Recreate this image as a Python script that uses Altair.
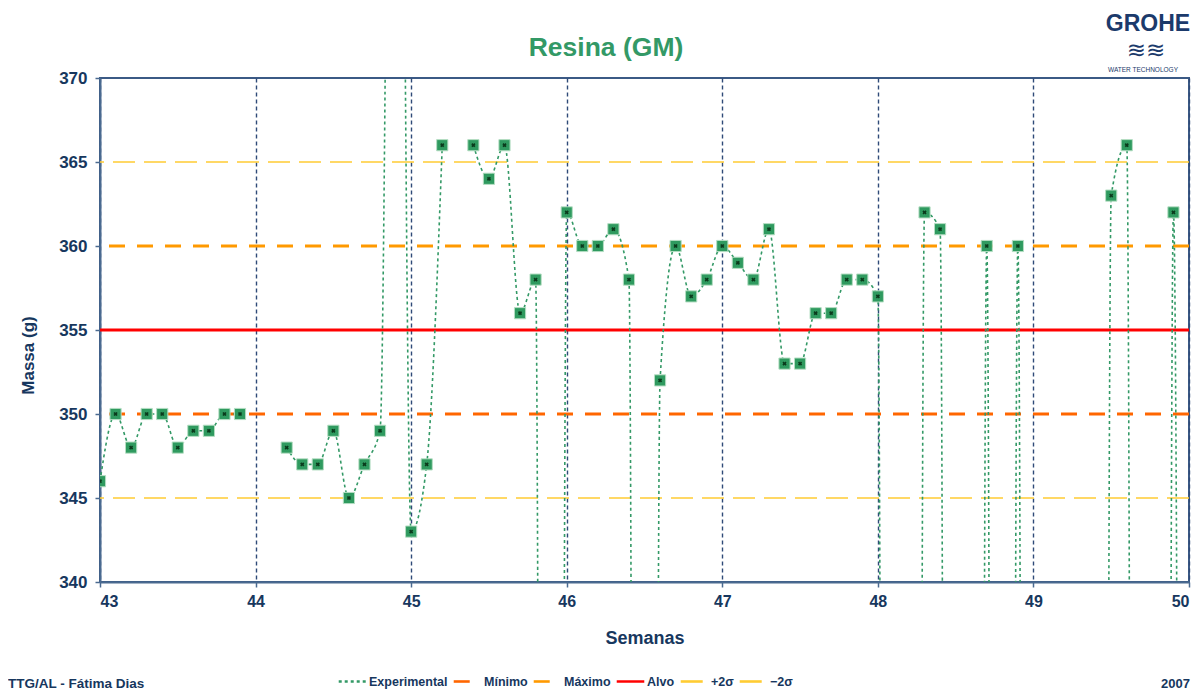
import altair as alt
import pandas as pd

# ---------------- data ----------------
semanas = [43.0, 43.1, 43.2, 43.3, 43.4, 43.5, 43.6, 43.7, 43.8, 43.9,
           44.0, 44.1, 44.2, 44.3, 44.4, 44.5, 44.6, 44.7, 44.8, 44.9,
           45.0, 45.1, 45.2, 45.3, 45.4, 45.5, 45.6, 45.7, 45.8, 45.9,
           46.0, 46.1, 46.2, 46.3, 46.4, 46.5, 46.6, 46.7, 46.8, 46.9,
           47.0, 47.1, 47.2, 47.3, 47.4, 47.5, 47.6, 47.7, 47.8, 47.9,
           48.0, 48.1, 48.2, 48.3, 48.4, 48.5, 48.6, 48.7, 48.8, 48.9,
           49.0, 49.1, 49.2, 49.3, 49.4, 49.5, 49.6, 49.7, 49.8, 49.9,
           50.0]
massa = [346, 350, 348, 350, 350, 348, 349, 349, 350, 350,
         None, None, 348, 347, 347, 349, 345, 347, 349, 430,
         343, 347, 366, None, 366, 364, 366, 356, 358, 0,
         362, 360, 360, 361, 358, 0, 352, 360, 357, 358,
         360, 359, 358, 361, 353, 353, 356, 356, 358, 358,
         357, 0, 0, 362, 361, 0, 0, 360, 0, 360,
         0, 0, 0, 0, 0, 363, 366, 0, 0, 362,
         0]

series_names = ["Experimental", "Mínimo", "Máximo", "Alvo", "+2σ", "−2σ"]
series_colors = ["#339966", "#FF6600", "#FF9900", "#FF0000", "#FFCC33", "#FFCC33"]
series_dash = [[3, 3], [16, 12], [16, 12], [1, 0], [22, 9], [22, 9]]

ref_names = ["Mínimo", "Máximo", "Alvo", "+2σ", "−2σ"]
ref_values = [350, 360, 355, 365, 345]
ref_widths = [3.2, 3.2, 3.2, 1.5, 1.5]

x_ticks = [43, 44, 45, 46, 47, 48, 49, 50]
y_ticks = [340, 345, 350, 355, 360, 365, 370]

title_text = "Resina (GM)"
x_title = "Semanas"
y_title = "Massa (g)"
footer_left = "TTG/AL - Fátima Dias"
footer_right = "2007"

NAVY = "#17375E"
AXIS = "#4A6A90"
FONT = "Liberation Sans"

df = pd.DataFrame({"semana": semanas, "massa": massa,
                   "serie": ["Experimental"] * len(semanas)})
ref = pd.DataFrame({"serie": ref_names, "valor": ref_values, "w": ref_widths})

legend = alt.Legend(orient="none", legendX=237, legendY=588, direction="horizontal",
                    title=None, symbolType="stroke", symbolSize=760,
                    symbolStrokeWidth=2.6,
                    labelFont=FONT, labelFontSize=12.5, labelFontWeight="bold",
                    labelColor=NAVY, labelOffset=1, columnPadding=0,
                    symbolOffset=0, padding=0)

color_enc = alt.Color("serie:N", scale=alt.Scale(domain=series_names, range=series_colors),
                      legend=legend)
dash_enc = alt.StrokeDash("serie:N", scale=alt.Scale(domain=series_names, range=series_dash),
                          legend=legend)

x_scale = alt.Scale(domain=[43, 50], nice=False, zero=False)
y_scale = alt.Scale(domain=[340, 370], nice=False, zero=False)

x_axis = alt.Axis(values=x_ticks, format="d", grid=True, gridColor="#2F4A78",
                  gridDash=[4, 3], gridWidth=1.4, domainColor=AXIS, domainWidth=2,
                  tickColor=AXIS, tickSize=5, tickWidth=1.5,
                  labelFont=FONT, labelFontSize=16, labelFontWeight="bold",
                  labelColor=NAVY, labelPadding=6,
                  title=x_title, titleFont=FONT, titleFontSize=18,
                  titleFontWeight="bold", titleColor=NAVY,
                  titleY=56, titleBaseline="middle")
y_axis = alt.Axis(values=y_ticks, format="d", grid=False, domainColor=AXIS, domainWidth=2,
                  tickColor=AXIS, tickSize=5, tickWidth=1.5,
                  labelFont=FONT, labelFontSize=17, labelFontWeight="bold",
                  labelColor=NAVY, labelPadding=8,
                  title=y_title, titleFont=FONT, titleFontSize=17,
                  titleFontWeight="bold", titleColor=NAVY,
                  titleX=-72, titleY=277, titleAlign="center", titleBaseline="middle",
                  titleAngle=270)

refs = alt.Chart(ref).mark_rule().encode(
    y=alt.Y("valor:Q", scale=y_scale, axis=y_axis),
    color=color_enc, strokeDash=dash_enc,
    strokeWidth=alt.StrokeWidth("w:Q", scale=None),
)

base = alt.Chart(df)

line = base.mark_line(interpolate="monotone", clip=True, strokeWidth=1.6,
                      invalid="break-paths-filter-domains").encode(
    x=alt.X("semana:Q", scale=x_scale, axis=x_axis),
    y=alt.Y("massa:Q", scale=y_scale, axis=y_axis),
    color=color_enc, strokeDash=dash_enc,
)

squares = base.mark_square(size=125, filled=True, clip=True, color="#2F9A5F",
                           stroke="#B5DEC3", strokeWidth=1, opacity=1).encode(
    x=alt.X("semana:Q", scale=x_scale),
    y=alt.Y("massa:Q", scale=y_scale),
)
crosses = base.mark_point(shape="cross", angle=45, filled=True, size=18, clip=True,
                          color="#0A3A1C", opacity=1).encode(
    x=alt.X("semana:Q", scale=x_scale),
    y=alt.Y("massa:Q", scale=y_scale),
)


def label(text, x, y, size, color, align="center", weight="bold", font=FONT):
    return alt.Chart(pd.DataFrame({"t": [text]})).mark_text(
        align=align, baseline="middle", fontSize=size, fontWeight=weight,
        font=font, color=color).encode(
        text="t:N", x=alt.value(x), y=alt.value(y))


title = label(title_text, 506, -30, 26.5, "#339966")
foot_l = label(footer_left, -92, 606, 13.5, NAVY, align="left")
foot_r = label(footer_right, 1090, 606, 13, NAVY, align="right")
logo1 = label("GROHE", 1048, -54, 23, "#1B3A6B")
logo2 = label("≋≋", 1046, -27, 23, "#1B3A6B", weight="normal", font="DejaVu Sans")
logo3 = label("WATER TECHNOLOGY", 1043, -8, 6.5, "#1B3A6B", weight="normal")

chart = alt.layer(refs, line, squares, crosses, title, foot_l, foot_r,
                  logo1, logo2, logo3).resolve_scale(
    color="shared", strokeDash="shared"
).properties(
    width=1089, height=504,
    autosize=alt.AutoSizeParams(type="none"),
    padding={"left": 92, "top": 70, "right": 3, "bottom": 109},
    background="white",
).configure_view(stroke="#3B5A85", strokeWidth=2)

chart.save("out.html", embed_options={"renderer": "svg", "actions": False})
